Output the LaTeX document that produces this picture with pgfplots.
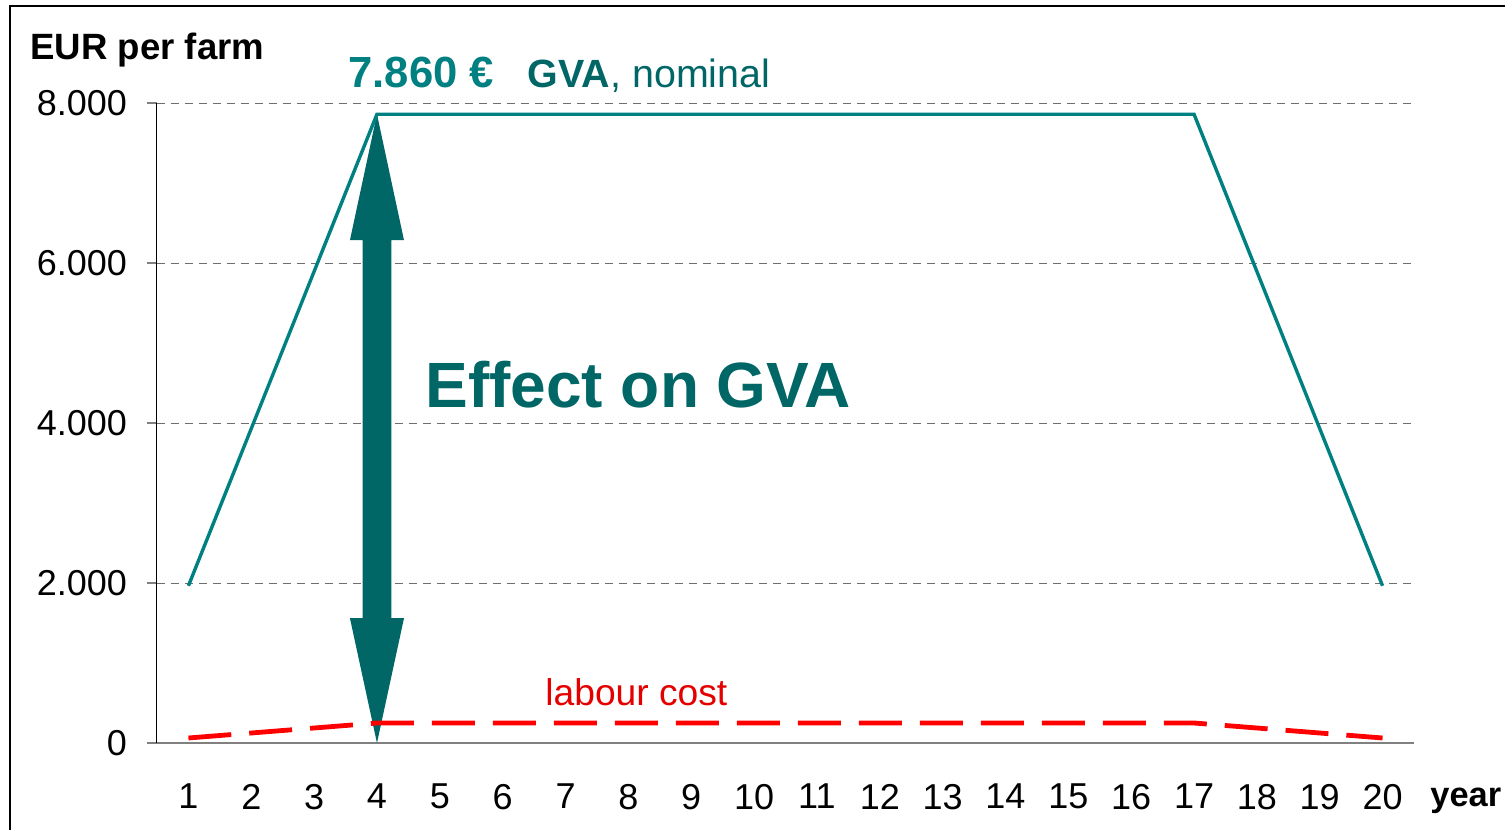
\documentclass[border=0pt]{standalone}
\usepackage{pgfplots}
\pgfplotsset{compat=1.18}
\usepackage{fontspec}
\setmainfont{Liberation Sans}
\definecolor{gvateal}{RGB}{0,128,128}
\definecolor{darkteal}{RGB}{0,102,102}
\definecolor{labred}{RGB}{255,0,0}
\definecolor{gridgray}{RGB}{110,110,110}

\begin{document}
\begin{tikzpicture}
\useasboundingbox (-78.5pt,-43.5pt) rectangle (674pt,371.5pt);
\draw[line width=1pt] (-73.5pt,-43.5pt) -- (-73.5pt,368.5pt) -- (674pt,368.5pt);
\begin{axis}[
    at={(0,0)}, anchor=south west,
    scale only axis, width=628.5pt, height=320pt,
    xmin=0.5, xmax=20.5, ymin=0, ymax=8000,
    axis lines=left,
    axis line style={-},
    x axis line style={draw=gray, line width=0.8pt},
    y axis line style={draw=black, line width=0.5pt},
    xtick={1,...,20},
    ytick={0,2000,4000,6000,8000},
    xtick style={draw=none},
    ytick style={draw=gray, line width=0.8pt},
    tick align=outside, major tick length=5pt,
    ymajorgrids,
    major grid style={gridgray, line width=0.5pt, dash pattern=on 4pt off 3pt},
    ticklabel style={font=\fontsize{18}{20}\selectfont},
    xticklabel style={yshift=-12pt},
    yticklabel style={xshift=-6.5pt},
    /pgf/number format/.cd, 1000 sep={.}, assume math mode=true,
]
% double arrow "Effect on GVA"
\addplot[fill=darkteal, draw=none] coordinates {
    (4,0) (3.57,1560) (3.772,1560) (3.772,6285) (3.57,6285) (4,7860)
    (4.43,6285) (4.228,6285) (4.228,1560) (4.43,1560)
} --cycle;
% GVA, nominal
\addplot[gvateal, line width=1.7pt, mark=none] coordinates {
    (1,1965) (2,3930) (3,5895) (4,7860) (5,7860) (6,7860) (7,7860)
    (8,7860) (9,7860) (10,7860) (11,7860) (12,7860) (13,7860) (14,7860)
    (15,7860) (16,7860) (17,7860) (18,5895) (19,3930) (20,1965)
};
% labour cost
\addplot[labred, line width=2.4pt, mark=none, dash pattern=on 21.5pt off 9pt] coordinates {
    (1,62.5) (2,125) (3,187.5) (4,250) (5,250) (6,250) (7,250)
    (8,250) (9,250) (10,250) (11,250) (12,250) (13,250) (14,250)
    (15,250) (16,250) (17,250) (18,187.5) (19,125) (20,62.5)
};
\end{axis}
\node[anchor=base west, inner sep=0pt, font=\fontsize{18.3}{20}\selectfont\bfseries] at (-63.5pt,341.5pt) {EUR per farm};
\node[anchor=base west, inner sep=0pt] at (95.5pt,327.5pt)
    {\textcolor{gvateal}{\fontsize{21.8}{24}\selectfont\bfseries 7.860 €}\hspace{17pt}\textcolor{darkteal}{\fontsize{19.7}{22}\selectfont\textbf{GVA}, nominal}};
\node[anchor=base west, inner sep=0pt, font=\fontsize{32}{36}\selectfont\bfseries, text=darkteal] at (134pt,167.5pt) {Effect on GVA};
\node[anchor=base west, inner sep=0pt, font=\fontsize{18.6}{20}\selectfont, text=labred!90!black] at (194pt,18.5pt) {labour cost};
\node[anchor=base west, inner sep=0pt, font=\fontsize{17.2}{19}\selectfont\bfseries] at (636.5pt,-32pt) {year};
\end{tikzpicture}
\end{document}
